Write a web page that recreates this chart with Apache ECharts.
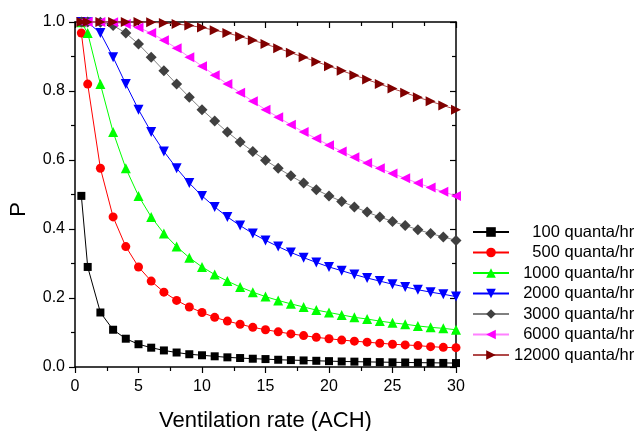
<!DOCTYPE html>
<html>
<head>
<meta charset="utf-8">
<script src="https://cdn.jsdelivr.net/npm/echarts@6/dist/echarts.min.js"></script>
<style>
html,body{margin:0;padding:0;background:#fff;}
#c{width:639px;height:431px;}
</style>
</head>
<body>
<div id="c"></div>
<script>
// Ventilation rate (ACH)
const ach = [0.5,1,2,3,4,5,6,7,8,9,10,11,12,13,14,15,16,17,18,19,20,21,22,23,24,25,26,27,28,29,30];
const seriesNames = ['100','500','1000','2000','3000','6000','12000'];
const p100 = [0.496,0.290,0.158,0.108,0.082,0.066,0.056,0.048,0.042,0.037,0.034,0.031,0.028,0.026,0.024,0.023,0.021,0.020,0.019,0.018,0.017,0.016,0.0155,0.0148,0.0142,0.0136,0.0131,0.0126,0.0122,0.0118,0.0114];
const p500 = [0.968,0.820,0.576,0.435,0.349,0.290,0.249,0.217,0.193,0.174,0.158,0.144,0.133,0.124,0.115,0.108,0.102,0.096,0.091,0.086,0.082,0.078,0.075,0.072,0.069,0.066,0.064,0.062,0.059,0.057,0.056];
const p1000 = [0.999,0.968,0.820,0.681,0.576,0.496,0.435,0.387,0.349,0.317,0.290,0.268,0.249,0.232,0.217,0.204,0.193,0.183,0.174,0.165,0.158,0.151,0.144,0.139,0.133,0.128,0.124,0.119,0.115,0.112,0.108];
const p2000 = [1.000,0.999,0.968,0.898,0.820,0.746,0.681,0.625,0.576,0.533,0.496,0.464,0.435,0.410,0.387,0.367,0.349,0.332,0.317,0.303,0.290,0.279,0.268,0.258,0.249,0.240,0.232,0.224,0.217,0.211,0.204];
const p3000 = [1.000,1.000,0.999,0.990,0.968,0.936,0.898,0.859,0.820,0.782,0.746,0.713,0.681,0.652,0.625,0.599,0.576,0.554,0.533,0.514,0.496,0.480,0.464,0.449,0.435,0.422,0.410,0.398,0.387,0.377,0.367];
const p6000 = [1.000,1.000,1.000,0.999,0.994,0.984,0.968,0.947,0.924,0.898,0.872,0.846,0.820,0.795,0.770,0.746,0.724,0.702,0.681,0.662,0.643,0.625,0.608,0.591,0.576,0.561,0.547,0.533,0.520,0.508,0.496];
const p12000 = [1.000,1.000,1.000,1.000,1.000,1.000,0.999,0.997,0.994,0.990,0.984,0.976,0.968,0.958,0.947,0.936,0.924,0.911,0.898,0.885,0.872,0.859,0.846,0.833,0.820,0.807,0.795,0.782,0.770,0.758,0.746];
const yTicks = ['0.0','0.2','0.4','0.6','0.8','1.0'];
const xTitle = 'Ventilation rate (ACH)';
const yTitle = 'P';
const unitText = ' quanta/hr';

const allData = [p100,p500,p1000,p2000,p3000,p6000,p12000];
const markerColors = ['#000000','#ff0000','#00ff00','#0000ff','#404040','#ff00ff','#800000'];
const lineColors = ['#000000','#ff0000','#00ff00','#0000ff','#808080','#ff80ff','#b04848'];
const symbols = ['rect','circle','triangle','triangle','diamond','triangle','triangle'];
const rotates = [0,0,0,180,0,90,-90];
const sizes = [8,9,10,10,11,10,10];

const FONT = 'Liberation Sans, Arial, sans-serif';
const chart = echarts.init(document.getElementById('c'), null, {renderer:'canvas'});

const series = seriesNames.map((n,i)=>({
  name:n, type:'line', xAxisIndex:0, yAxisIndex:0,
  data: ach.map((x,j)=>[x, allData[i][j]]),
  symbol: symbols[i], symbolRotate: rotates[i], symbolSize: sizes[i],
  showAllSymbol:true, clip:false,
  lineStyle:{color:lineColors[i], width:1},
  itemStyle:{color:markerColors[i], borderWidth:0},
  emphasis:{disabled:true},
  animation:false, z: 2+i
}));

chart.setOption({
  animation:false,
  grid:{left:75, right:183, top:22, bottom:64, containLabel:false, outerBoundsMode:'none'},
  legend:{
    orient:'vertical', left:472, top:223.5, padding:0,
    itemWidth:36, itemHeight:12, itemGap:3.5,
    data: seriesNames,
    formatter: n => ' '.repeat((5-n.length)*2) + n + unitText,
    textStyle:{fontFamily:FONT, fontSize:16.5, color:'#000'},
    selectedMode:false
  },
  xAxis:[{
    type:'value', min:0, max:30, interval:5, position:'bottom',
    name:xTitle, nameLocation:'middle', nameGap:43,
    nameTextStyle:{fontFamily:FONT, fontSize:22, color:'#000'},
    axisLine:{show:true, onZero:false, lineStyle:{color:'#000', width:1.5}},
    axisTick:{show:true, inside:false, length:6, lineStyle:{color:'#000', width:1.2}},
    minorTick:{show:true, splitNumber:2, length:4, lineStyle:{color:'#000', width:1.2}},
    axisLabel:{fontFamily:FONT, fontSize:16, color:'#000', margin:12},
    splitLine:{show:false}
  },{
    type:'value', min:0, max:30, interval:5, position:'top',
    axisLine:{show:true, onZero:false, lineStyle:{color:'#000', width:1.5}},
    axisTick:{show:true, inside:true, length:6, lineStyle:{color:'#000', width:1.2}},
    minorTick:{show:true, splitNumber:2, length:4, lineStyle:{color:'#000', width:1.2}},
    axisLabel:{show:false}, splitLine:{show:false}
  }],
  yAxis:[{
    type:'value', min:0, max:1, interval:0.2, position:'left',
    axisLine:{show:true, onZero:false, lineStyle:{color:'#000', width:1.5}},
    axisTick:{show:true, inside:false, length:6, lineStyle:{color:'#000', width:1.2}},
    minorTick:{show:true, splitNumber:2, length:4, lineStyle:{color:'#000', width:1.2}},
    axisLabel:{fontFamily:FONT, fontSize:16, color:'#000', margin:10,
      formatter:(v)=>yTicks[Math.round(v/0.2)]},
    splitLine:{show:false}
  },{
    type:'value', min:0, max:1, interval:0.2, position:'right',
    axisLine:{show:true, onZero:false, lineStyle:{color:'#000', width:1.5}},
    axisTick:{show:true, inside:true, length:6, lineStyle:{color:'#000', width:1.2}},
    minorTick:{show:true, splitNumber:2, length:4, lineStyle:{color:'#000', width:1.2}},
    axisLabel:{show:false}, splitLine:{show:false}
  }],
  graphic:[{
    type:'text', left:8, top:202, rotation:Math.PI/2,
    style:{text:yTitle, font:'22px '+FONT, fill:'#000'}
  }],
  series: series
});
</script>
</body>
</html>
